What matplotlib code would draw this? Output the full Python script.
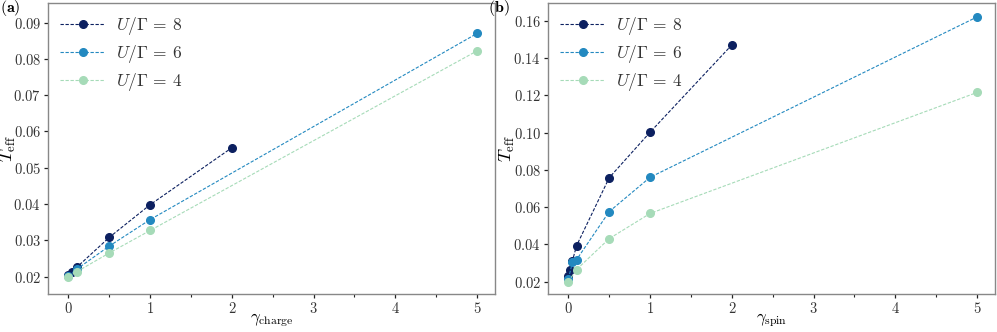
import matplotlib
matplotlib.use("Agg")
import matplotlib.pyplot as plt
from matplotlib.ticker import MultipleLocator

plt.rcParams['font.family'] = 'serif'
plt.rcParams['font.serif'] = ['cmr10', 'DejaVu Serif']
plt.rcParams['mathtext.fontset'] = 'cm'
plt.rcParams['axes.formatter.use_mathtext'] = True

# Panel (a): charge
a8_x = [0, 0.05, 0.1, 0.5, 1, 2]
a8_y = [0.0205, 0.0212, 0.0225, 0.0308, 0.0398, 0.0555]
a6_x = [0, 0.1, 0.5, 1, 5]
a6_y = [0.0202, 0.0220, 0.0284, 0.0357, 0.0870]
a4_x = [0, 0.1, 0.5, 1, 5]
a4_y = [0.0200, 0.0213, 0.0265, 0.0327, 0.0822]

# Panel (b): spin
b8_x = [0, 0.025, 0.05, 0.1, 0.5, 1, 2]
b8_y = [0.0228, 0.0264, 0.0313, 0.0393, 0.0758, 0.1002, 0.1470]
b6_x = [0, 0.05, 0.1, 0.5, 1, 5]
b6_y = [0.0215, 0.0305, 0.0318, 0.0576, 0.0760, 0.1620]
b4_x = [0, 0.1, 0.5, 1, 5]
b4_y = [0.0200, 0.0265, 0.0431, 0.0566, 0.1215]

labels = [r'$U/\Gamma\,=\,8$', r'$U/\Gamma\,=\,6$', r'$U/\Gamma\,=\,4$']
colors = ['#0c2060', '#2389c0', '#a6dbb8']

fig = plt.figure(figsize=(9.97, 3.32), dpi=100)
axA = fig.add_axes([0.0481, 0.1145, 0.4484, 0.8765])
axB = fig.add_axes([0.5496, 0.1145, 0.4484, 0.8765])

def draw(ax, series, xlabel, ylim, ymajor, ylab_x):
    for (xs, ys), lab, c in zip(series, labels, colors):
        ax.plot(xs, ys, ls='--', lw=0.8, marker='o', ms=5.5, color=c, label=lab,
                dashes=(3, 1.5))
    ax.set_xlim(-0.25, 5.22)
    ax.set_ylim(*ylim)
    ax.xaxis.set_major_locator(MultipleLocator(1))
    ax.xaxis.set_minor_locator(MultipleLocator(0.5))
    ax.yaxis.set_major_locator(MultipleLocator(ymajor))
    ax.set_xlabel(xlabel, fontsize=12)
    ax.xaxis.set_label_coords(0.5, -0.058)
    ax.set_ylabel(r'$T_{\rm eff}$', fontsize=13)
    ax.yaxis.set_label_coords(ylab_x, 0.5)
    for s in ax.spines.values():
        s.set_color('#888888')
        s.set_linewidth(1.0)
    ax.tick_params(axis='both', which='major', direction='out', length=3, width=0.9,
                   color='#222222', labelsize=10.5, labelcolor='#333333', pad=2)
    ax.tick_params(axis='x', which='minor', direction='out', length=2, width=0.8,
                   color='#222222')
    leg = ax.legend(loc='upper left', frameon=False, fontsize=12.5, handlelength=2.6,
                    borderaxespad=0.3, labelspacing=0.35, handletextpad=0.6)
    for t in leg.get_texts():
        t.set_color('#333333')

draw(axA, [(a8_x, a8_y), (a6_x, a6_y), (a4_x, a4_y)], r'$\gamma_{\rm charge}$',
     (0.0152, 0.0954), 0.01, -0.067)
draw(axB, [(b8_x, b8_y), (b6_x, b6_y), (b4_x, b4_y)], r'$\gamma_{\rm spin}$',
     (0.0134, 0.1695), 0.02, -0.070)

fig.text(0.0, 0.975, r'($\mathbf{a}$)', fontsize=11.5, ha='left', va='center')
fig.text(0.4895, 0.975, r'($\mathbf{b}$)', fontsize=11.5, ha='left', va='center')

fig.savefig('out.png', dpi=100)
